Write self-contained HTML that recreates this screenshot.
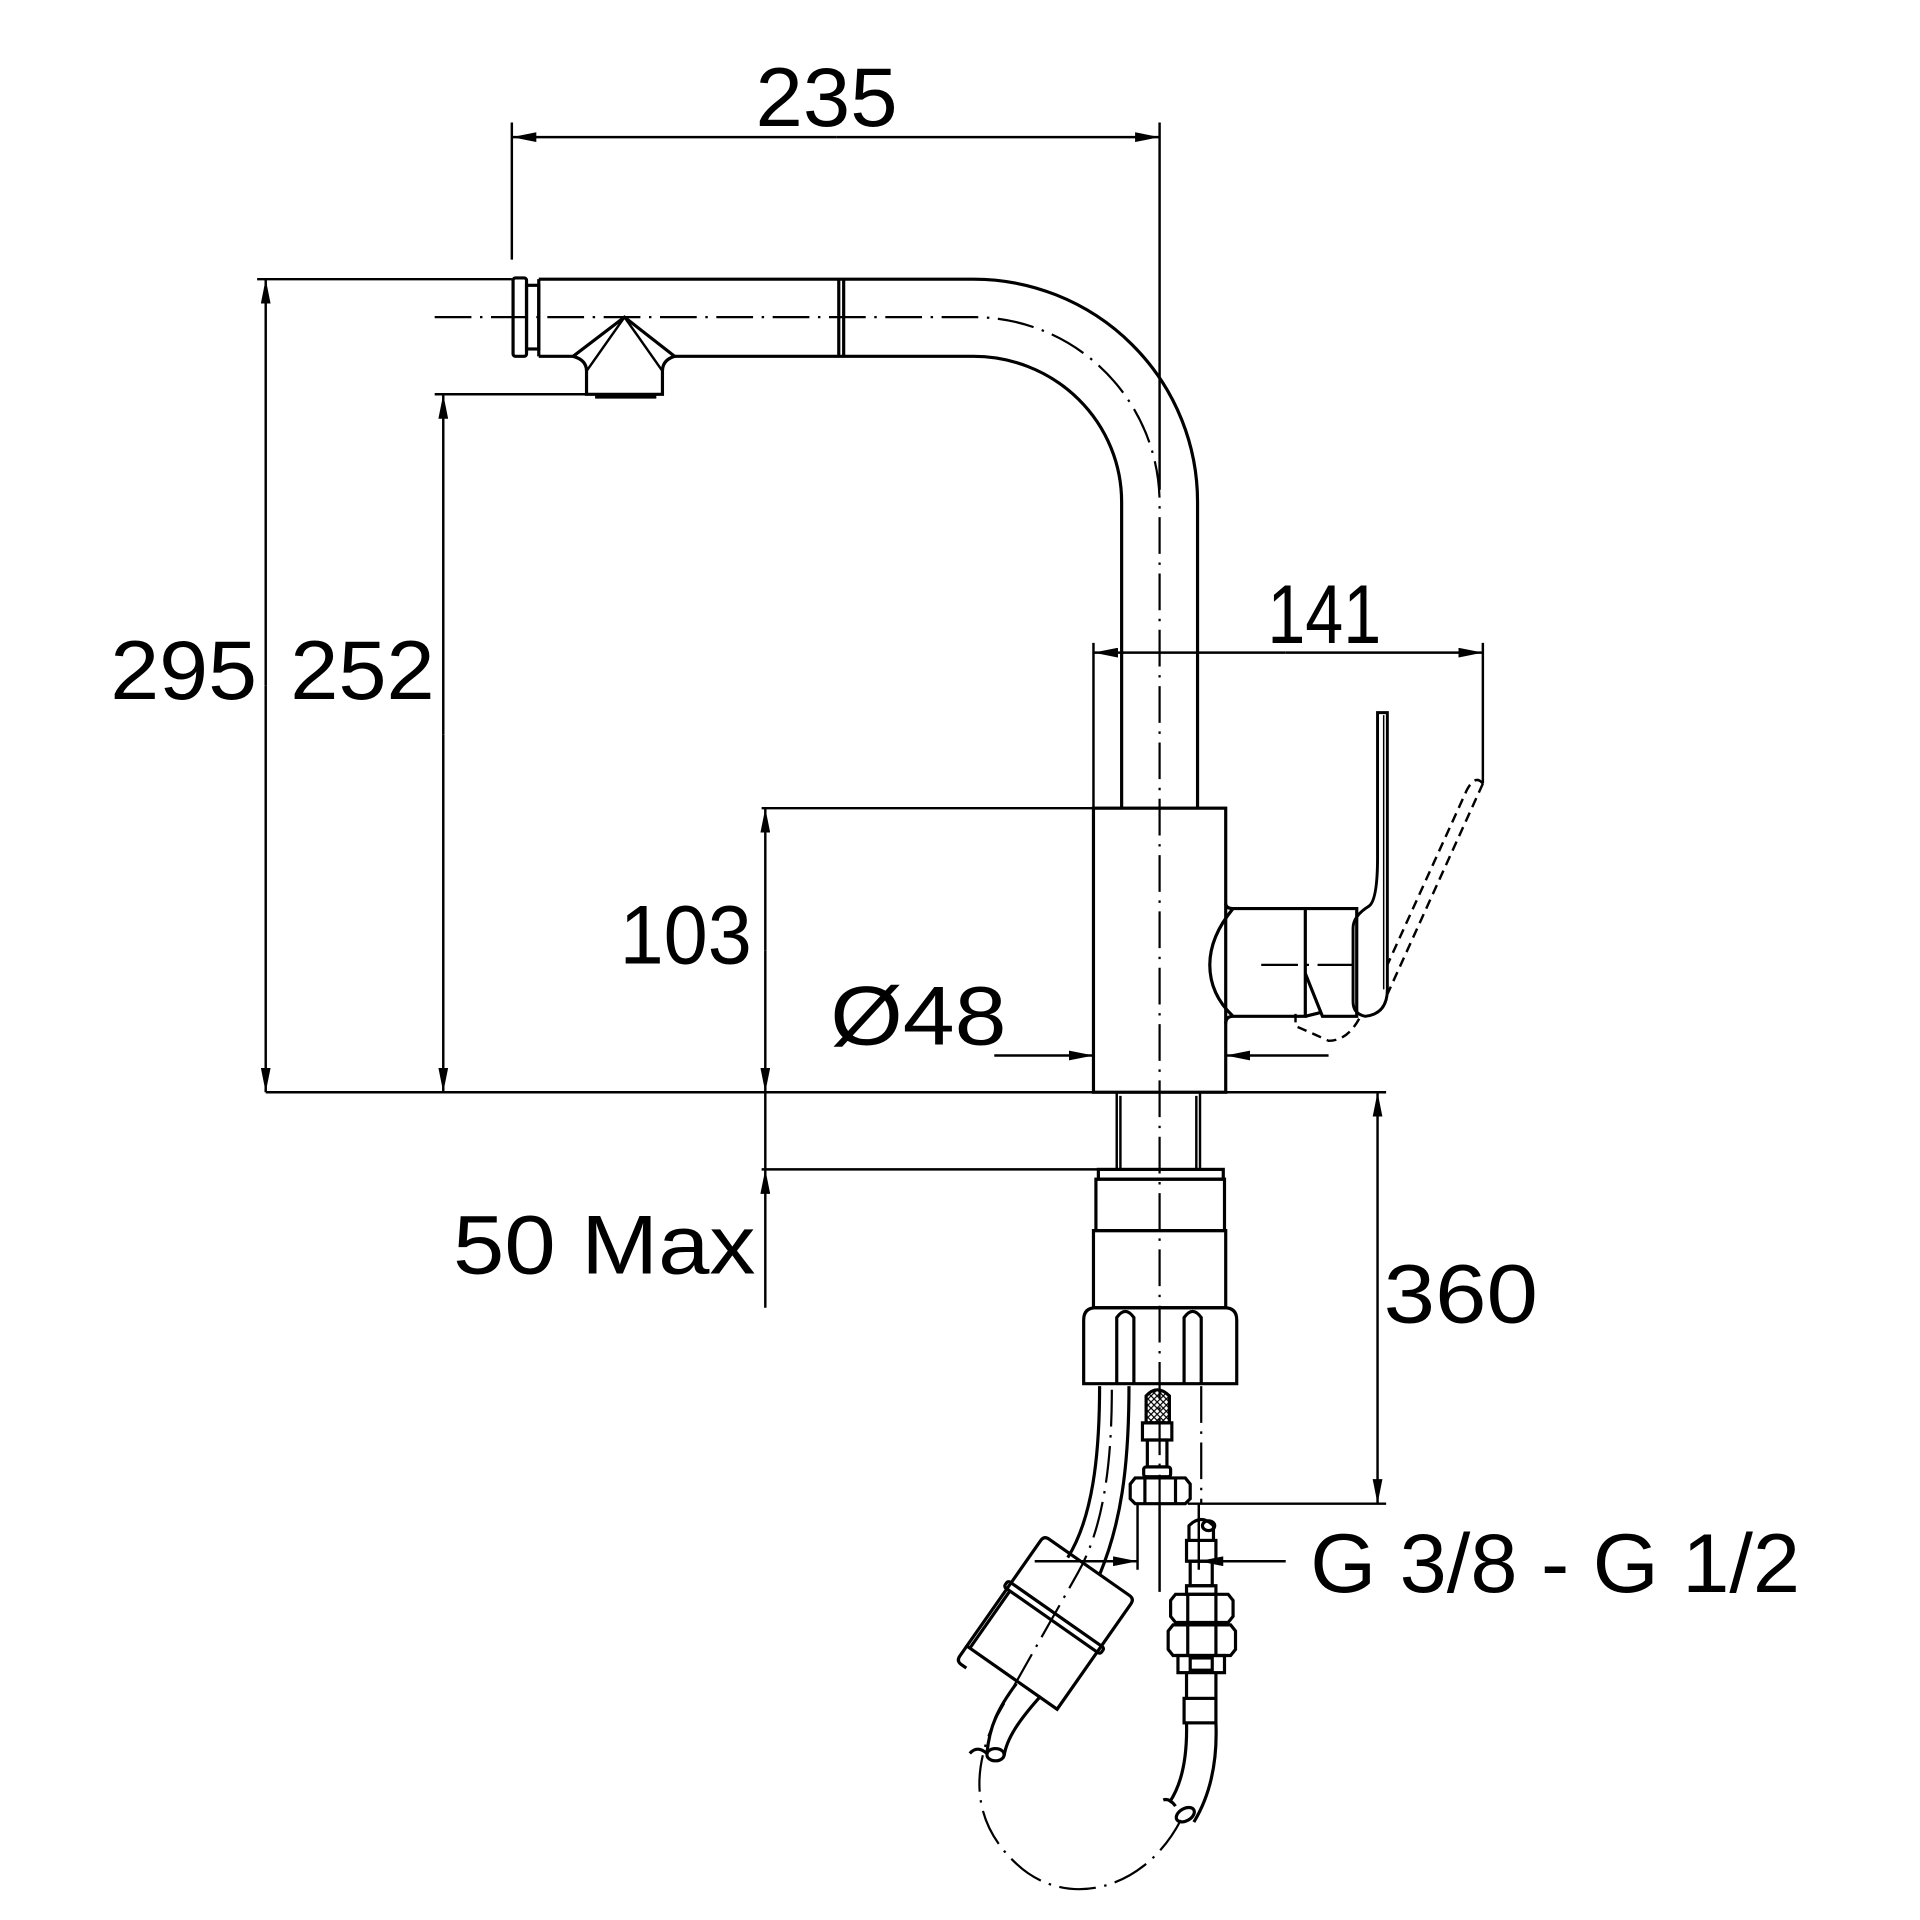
<!DOCTYPE html>
<html><head><meta charset="utf-8"><style>
html,body{margin:0;padding:0;background:#fff}
svg{display:block}
text{font-family:"Liberation Sans",sans-serif;font-size:68px;fill:#000}
</style></head><body>
<svg width="1920" height="1920" viewBox="0 0 1568 1568" xmlns="http://www.w3.org/2000/svg">
<defs>
<marker id="a" viewBox="0 0 20 8" refX="20" refY="4" markerWidth="20" markerHeight="8" markerUnits="userSpaceOnUse" orient="auto"><path d="M0 0L20 4L0 8z"/></marker>
<pattern id="h" width="5" height="5" patternUnits="userSpaceOnUse"><path d="M0 5L5 0M0 0L5 5" stroke="#000" stroke-width="1"/></pattern>
</defs>
<g fill="none" stroke="#000" stroke-width="2.6">
<g stroke-width="2">
<line x1="418" y1="100" x2="418" y2="212"/>
<line x1="947" y1="100" x2="947" y2="400"/>
<line x1="683" y1="112" x2="947" y2="112" marker-end="url(#a)"/>
<line x1="683" y1="112" x2="418" y2="112" marker-end="url(#a)"/>
<line x1="210" y1="228" x2="418" y2="228"/>
<line x1="355" y1="322" x2="482" y2="322"/>
<line x1="217" y1="560" x2="217" y2="228" marker-end="url(#a)"/>
<line x1="217" y1="560" x2="217" y2="892" marker-end="url(#a)"/>
<line x1="362" y1="600" x2="362" y2="322" marker-end="url(#a)"/>
<line x1="362" y1="600" x2="362" y2="892" marker-end="url(#a)"/>
<line x1="217" y1="892" x2="1132" y2="892"/>
<line x1="622" y1="660" x2="893" y2="660"/>
<line x1="625" y1="776" x2="625" y2="660" marker-end="url(#a)"/>
<line x1="625" y1="776" x2="625" y2="892" marker-end="url(#a)"/>
<line x1="625" y1="892" x2="625" y2="955"/>
<line x1="625" y1="1068" x2="625" y2="955" marker-end="url(#a)"/>
<line x1="622" y1="955" x2="897" y2="955"/>
<line x1="893" y1="525" x2="893" y2="660"/>
<line x1="1211" y1="525" x2="1211" y2="640"/>
<line x1="1050" y1="533" x2="893" y2="533" marker-end="url(#a)"/>
<line x1="1050" y1="533" x2="1211" y2="533" marker-end="url(#a)"/>
<line x1="812" y1="862" x2="893" y2="862" marker-end="url(#a)"/>
<line x1="1085" y1="862" x2="1001" y2="862" marker-end="url(#a)"/>
<line x1="1125" y1="1060" x2="1125" y2="892" marker-end="url(#a)"/>
<line x1="1125" y1="1060" x2="1125" y2="1228" marker-end="url(#a)"/>
<line x1="970" y1="1228" x2="1132" y2="1228"/>
<line x1="845" y1="1275" x2="929" y2="1275" marker-end="url(#a)"/>
<line x1="1050" y1="1275" x2="979" y2="1275" marker-end="url(#a)"/>
<line x1="929" y1="1228" x2="929" y2="1282"/>
<line x1="979" y1="1228" x2="979" y2="1282"/>
<line x1="947" y1="1228" x2="947" y2="1300"/>
</g>
<g stroke-width="1.8" stroke-dasharray="30 7 2 7">
<path d="M355 259H795A152 152 0 0 1 947 411V1228"/>
<path d="M1030 788H1112"/>
<path d="M981 1132V1228"/>
<path d="M908 1135C908 1200 900 1250 880 1285L815 1400C795 1440 790 1485 830 1522C870 1560 935 1545 965 1485"/>
</g>
<path d="M440 228H795A183 182 0 0 1 978 410V660"/>
<path d="M551 291H795A121 119 0 0 1 916 410V660"/>
<line x1="440" y1="228" x2="440" y2="291"/>
<line x1="468" y1="291" x2="440" y2="291"/>
<line x1="685" y1="228" x2="685" y2="291"/>
<line x1="689" y1="228" x2="689" y2="291"/>
<rect x="419" y="227" width="11" height="64" rx="2"/>
<rect x="430" y="233" width="10" height="52"/>
<path d="M510 259L468 291Q479 294 479 303V322H541V303Q541 294 551 291L510 259Z"/>
<path d="M510 259L479 303M510 259L541 303" stroke-width="2"/>
<line x1="486" y1="324" x2="536" y2="324" stroke-width="3"/>
<rect x="893" y="660" width="108" height="232"/>
<path d="M1001 738Q1001 742 1007 742H1066V830H1007Q1001 830 1001 836" />
<path d="M1007 742Q988 765 988 788Q988 812 1007 830" />
<path d="M1066 742H1108V830H1080L1066 795" />
<path d="M1066 830L1078 827" />
<path d="M1125 582L1133 582V808Q1133 828 1115 830Q1105 828 1105 818V758Q1105 748 1118 740Q1125 735 1125 700V668Z" stroke-width="2.4"/>
<path d="M1130 584V808" stroke-width="1.2"/>
<path d="M1211 640Q1205 632 1198 645L1133 788M1211 640L1133 812M1110 832Q1100 850 1085 850Q1070 843 1058 838V828" stroke-dasharray="8 5" stroke-width="2"/>
<path d="M912 892V955M980 892V955M915 895V955M977 895V955" stroke-width="2"/>
<rect x="897" y="955" width="102" height="8"/>
<rect x="895" y="963" width="105" height="42"/>
<rect x="893" y="1005" width="108" height="63"/>
<path d="M885 1130V1078Q885 1068 895 1068H1000Q1010 1068 1010 1078V1130Z"/>
<path d="M912 1130V1076Q919 1066 926 1076V1130M967 1130V1076Q974 1066 981 1076V1130"/>
<path d="M936 1162V1140Q945 1130 955 1140V1162Z" fill="url(#h)"/>
<rect x="933" y="1162" width="24" height="14"/>
<rect x="937" y="1176" width="16" height="22"/>
<rect x="934" y="1198" width="22" height="8" rx="2"/>
<path d="M927 1207H968L972 1212V1224L968 1228H927L923 1224V1212Z"/>
<path d="M935 1207V1228M960 1207V1228"/>
<path d="M971 1258V1246Q981 1236 991 1246V1258"/>
<ellipse cx="987" cy="1246" rx="5" ry="4"/>
<rect x="969" y="1258" width="24" height="17"/>
<rect x="972" y="1275" width="18" height="20"/>
<rect x="969" y="1295" width="24" height="7"/>
<path d="M960 1302H1003L1007 1307V1320L1003 1325H960L956 1320V1307Z"/>
<path d="M958 1327H1005L1009 1332V1347L1005 1352H958L954 1347V1332Z"/>
<path d="M970 1302V1352M993 1302V1352"/>
<rect x="962" y="1352" width="38" height="14"/>
<rect x="972" y="1354" width="18" height="10"/>
<path d="M969 1366V1387M993 1366V1387"/>
<rect x="967" y="1387" width="26" height="20"/>
<path d="M969 1407Q970 1450 955 1472M993 1407Q995 1455 975 1488"/>
<ellipse cx="968" cy="1482" rx="8" ry="5" transform="rotate(-30 968 1482)"/>
<path d="M950 1470Q955 1468 960 1475"/>
<path d="M898 1132C898 1190 892 1240 872 1272M922 1132C922 1200 915 1245 898 1286"/>
<g transform="translate(858 1325) rotate(35)">
<path d="M-45 -50Q-45 -55 -40 -55H40Q45 -55 45 -50V55H-45Z"/>
<path d="M-45 55V65Q-45 70 -40 70H-35"/>
<rect x="-48" y="-8" width="96" height="6" rx="2"/>
<path d="M-42 -2V55"/>
</g>
<path d="M830 1375C815 1395 808 1410 806 1432M850 1385C832 1405 822 1420 820 1434"/>
<ellipse cx="813" cy="1433" rx="7" ry="5"/>
<path d="M792 1432Q798 1425 806 1432"/>
</g>
<g lengthAdjust="spacingAndGlyphs">
<text x="617" y="103" textLength="116" lengthAdjust="spacingAndGlyphs">235</text>
<text x="90" y="571" textLength="120" lengthAdjust="spacingAndGlyphs">295</text>
<text x="237" y="571" textLength="118" lengthAdjust="spacingAndGlyphs">252</text>
<text x="1035" y="525" textLength="93" lengthAdjust="spacingAndGlyphs">141</text>
<text x="506" y="787" textLength="108" lengthAdjust="spacingAndGlyphs">103</text>
<text x="678" y="853" textLength="144" lengthAdjust="spacingAndGlyphs">Ø48</text>
<text x="370" y="1040" textLength="247" lengthAdjust="spacingAndGlyphs">50 Max</text>
<text x="1130" y="1080" textLength="126" lengthAdjust="spacingAndGlyphs">360</text>
<text x="1070" y="1300" textLength="400" lengthAdjust="spacingAndGlyphs">G 3/8 - G 1/2</text>
</g>
</svg>
</body></html>
